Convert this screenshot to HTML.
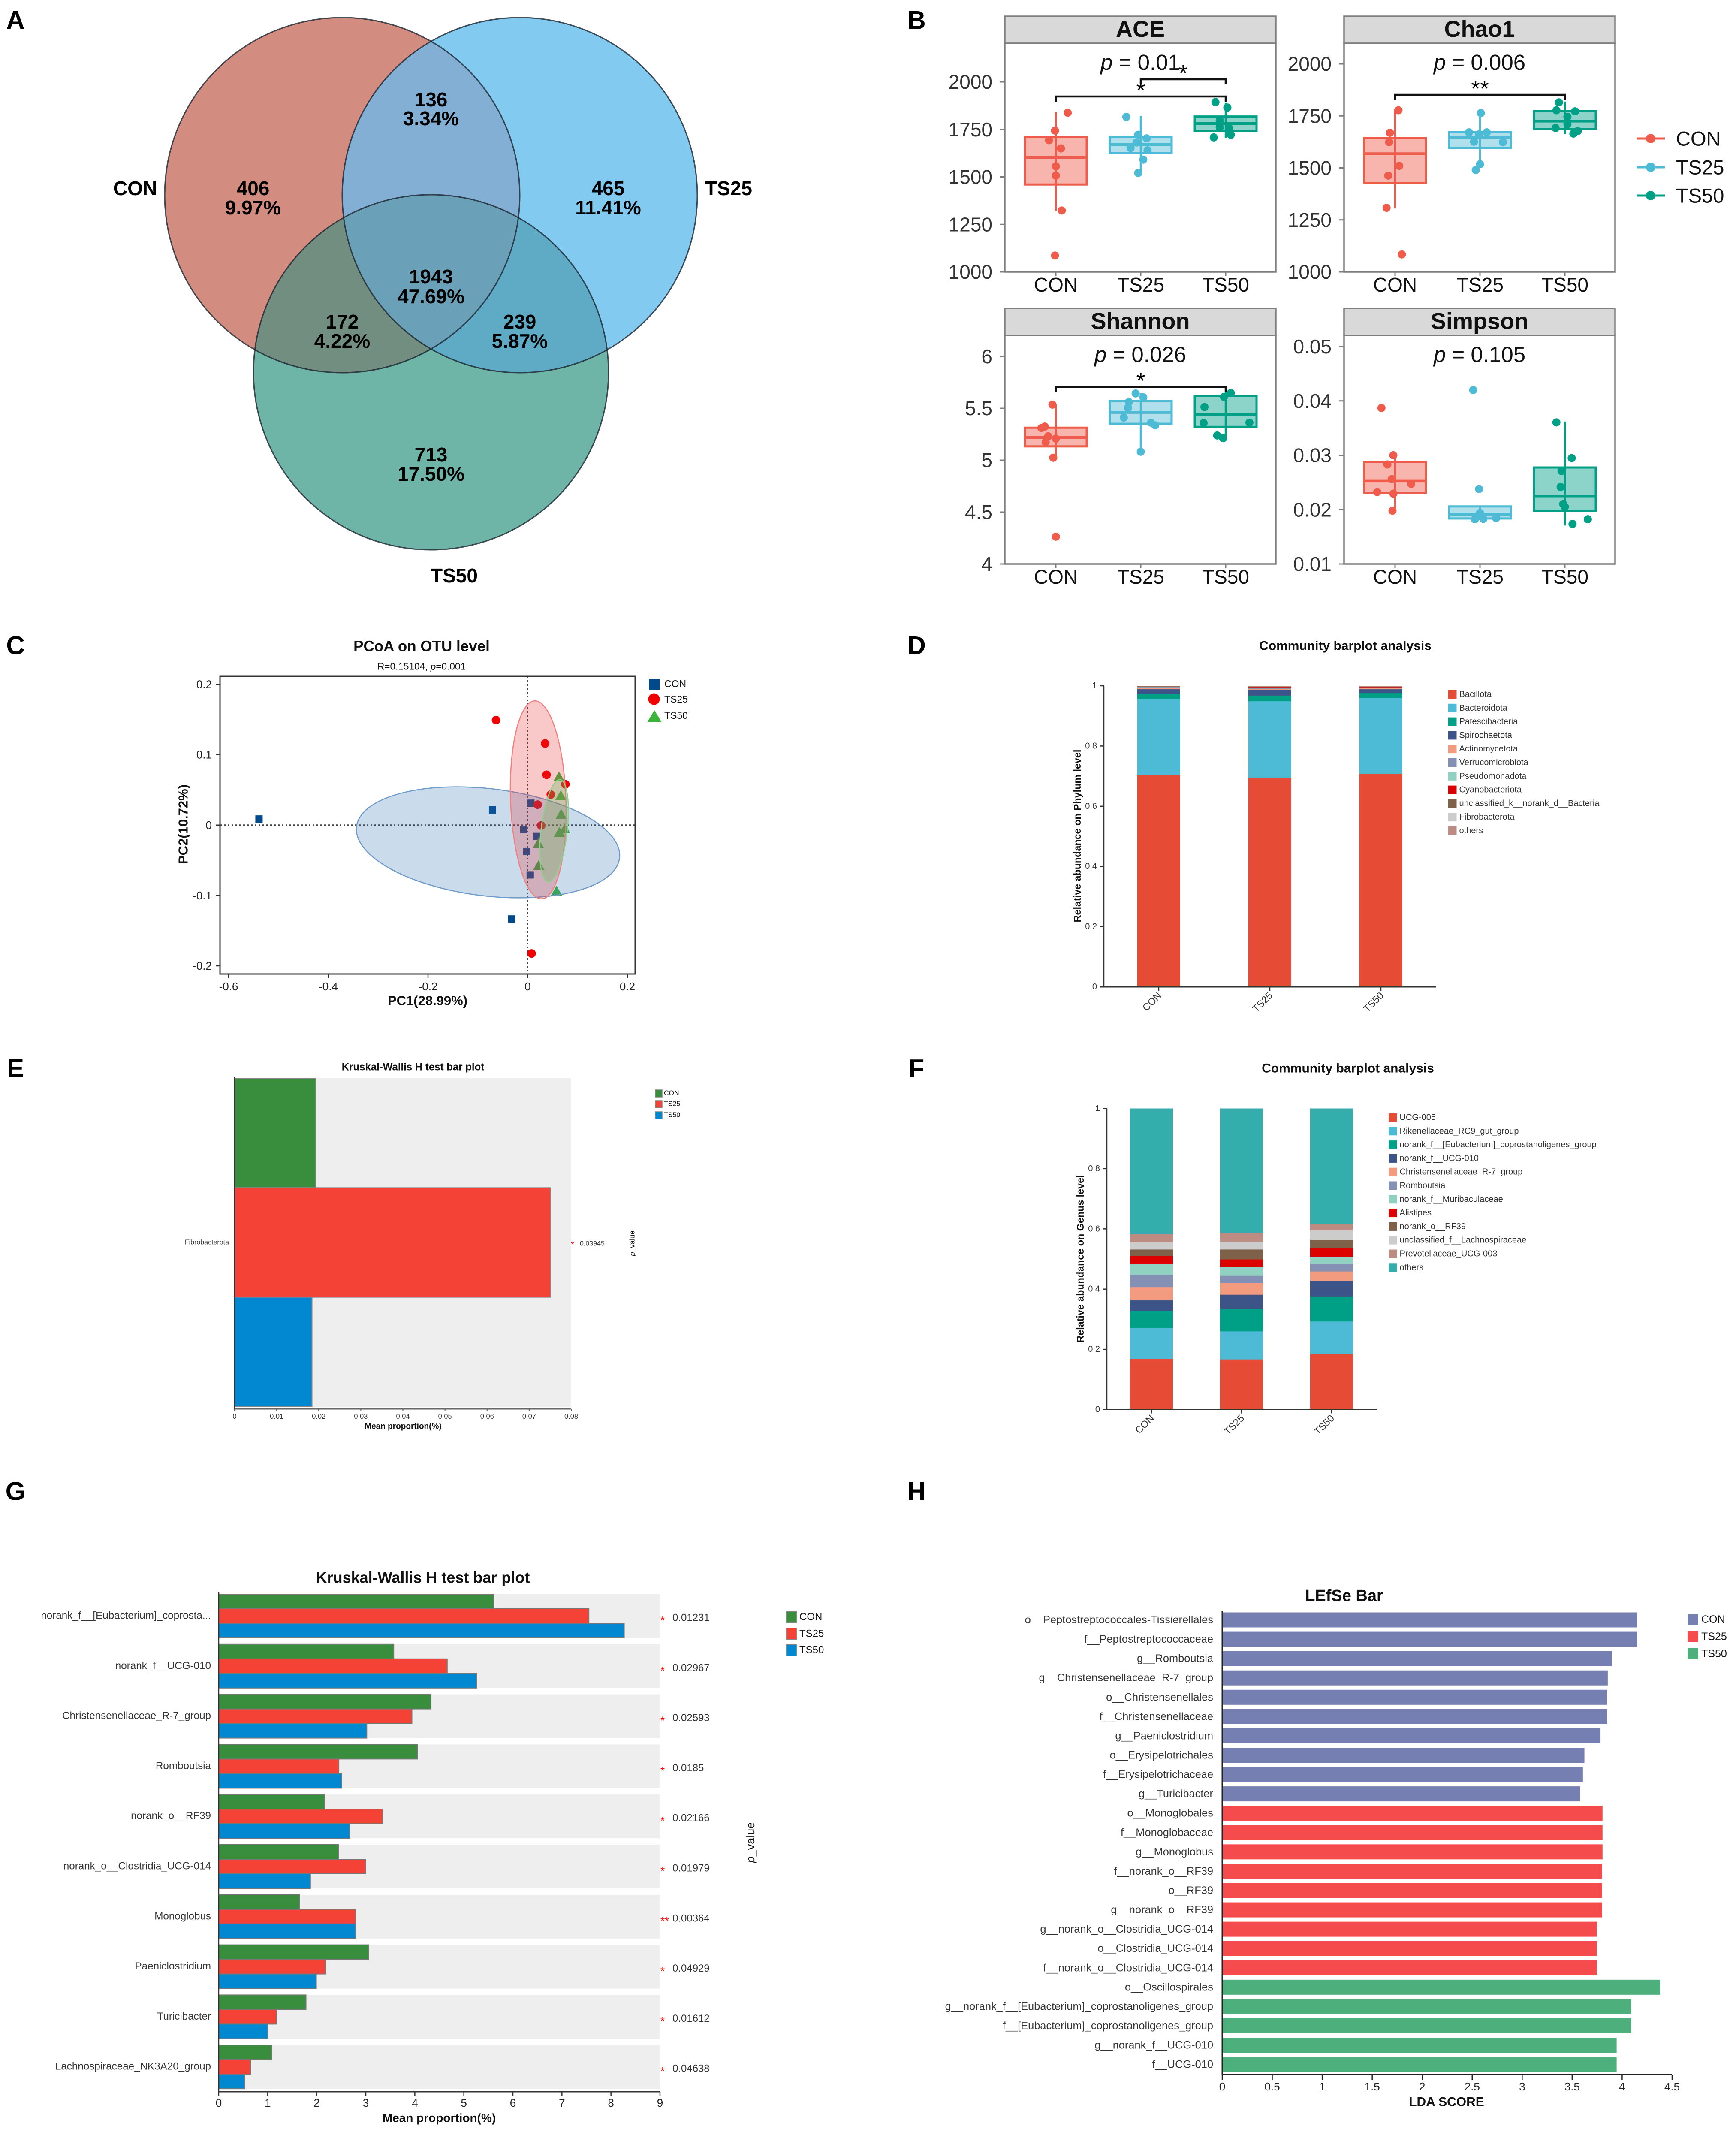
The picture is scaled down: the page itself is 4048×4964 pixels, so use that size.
<!DOCTYPE html>
<html lang="en">
<head>
<meta charset="utf-8">
<title>Microbiome multi-panel figure</title>
<style>
html,body{margin:0;padding:0;background:#fff;}
svg{display:block;font-family:"Liberation Sans",sans-serif;}
text{fill:#111;}
.c{text-anchor:middle;dominant-baseline:central;}
.s{dominant-baseline:central;}
.e{text-anchor:end;dominant-baseline:central;}
.b{font-weight:700;}
.letter{font-size:60px;font-weight:700;fill:#000;dominant-baseline:central;text-anchor:middle;}
.venn{font-size:46px;font-weight:700;fill:#000;text-anchor:middle;dominant-baseline:central;}
</style>
</head>
<body>
<svg id="figure" xmlns="http://www.w3.org/2000/svg" width="4048" height="4964" viewBox="0 0 4048 4964">
<rect width="4048" height="4964" fill="#fff"/>
<text class="letter" x="36" y="47">A</text>
<text class="letter" x="2137" y="47">B</text>
<text class="letter" x="36" y="1505">C</text>
<text class="letter" x="2137" y="1505">D</text>
<text class="letter" x="36" y="2491">E</text>
<text class="letter" x="2137" y="2491">F</text>
<text class="letter" x="36" y="3477">G</text>
<text class="letter" x="2137" y="3477">H</text>

<g id="panel-a">
  <defs>
    <clipPath id="clip-con"><circle cx="798" cy="455" r="414"/></clipPath>
    <clipPath id="clip-ts25"><circle cx="1212" cy="455" r="414"/></clipPath>
    <clipPath id="clip-ts50"><circle cx="1005" cy="868" r="414"/></clipPath>
  </defs>
  <circle cx="798" cy="455" r="414" fill="#D38C80"/>
  <circle cx="1212" cy="455" r="414" fill="#83CAF0"/>
  <circle cx="1005" cy="868" r="414" fill="#6EB4A7"/>
  <g clip-path="url(#clip-con)"><circle cx="1212" cy="455" r="414" fill="#82AFD3"/></g>
  <g clip-path="url(#clip-con)"><circle cx="1005" cy="868" r="414" fill="#728E80"/></g>
  <g clip-path="url(#clip-ts25)"><circle cx="1005" cy="868" r="414" fill="#5FAAC5"/></g>
  <g clip-path="url(#clip-con)"><g clip-path="url(#clip-ts25)"><circle cx="1005" cy="868" r="414" fill="#6BA1B8"/></g></g>
  <circle cx="798" cy="455" r="414" fill="none" stroke="#1a2430" stroke-opacity=".8" stroke-width="3"/>
  <circle cx="1212" cy="455" r="414" fill="none" stroke="#1a2430" stroke-opacity=".8" stroke-width="3"/>
  <circle cx="1005" cy="868" r="414" fill="none" stroke="#1a2430" stroke-opacity=".8" stroke-width="3"/>
  <text class="venn" x="315" y="439">CON</text>
  <text class="venn" x="1699" y="439">TS25</text>
  <text class="venn" x="1059" y="1342">TS50</text>
  <text class="venn" x="590" y="439">406</text>
  <text class="venn" x="590" y="484">9.97%</text>
  <text class="venn" x="1005" y="232">136</text>
  <text class="venn" x="1005" y="276">3.34%</text>
  <text class="venn" x="1418" y="439">465</text>
  <text class="venn" x="1418" y="484">11.41%</text>
  <text class="venn" x="1005" y="645">1943</text>
  <text class="venn" x="1005" y="691">47.69%</text>
  <text class="venn" x="798" y="750">172</text>
  <text class="venn" x="798" y="795">4.22%</text>
  <text class="venn" x="1212" y="750">239</text>
  <text class="venn" x="1212" y="795">5.87%</text>
  <text class="venn" x="1005" y="1060">713</text>
  <text class="venn" x="1005" y="1105">17.50%</text>
</g>

<g id="panel-b">
  <g>
    <g>
      <line x1="3816" x2="3882" y1="323" y2="323" stroke="#F05C4B" stroke-width="5"/><circle cx="3849" cy="323" r="11" fill="#F05C4B"/>
      <text class="s" x="3908" y="323" font-size="47">CON</text>
    </g>
    <g>
      <line x1="3816" x2="3882" y1="390" y2="390" stroke="#4DBBD5" stroke-width="5"/><circle cx="3849" cy="390" r="11" fill="#4DBBD5"/>
      <text class="s" x="3908" y="390" font-size="47">TS25</text>
    </g>
    <g>
      <line x1="3816" x2="3882" y1="456" y2="456" stroke="#00A087" stroke-width="5"/><circle cx="3849" cy="456" r="11" fill="#00A087"/>
      <text class="s" x="3908" y="456" font-size="47">TS50</text>
    </g>
  </g>
</g>

<g id="panel-c">
  <text class="c b" x="983" y="1507" font-size="35">PCoA on OTU level</text>
  <text class="c" x="983" y="1554" font-size="22.6">R=0.15104, <tspan font-style="italic">p</tspan>=0.001</text>
  <text class="c b" x="997" y="2333" font-size="31">PC1(28.99%)</text>
  <text class="c b" x="427" y="1922" font-size="31" transform="rotate(-90 427 1922)">PC2(10.72%)</text>
  <g>
    <g>
      <rect x="1513" y="1583" width="25" height="25" fill="#004A8C"/>
      <text class="s" x="1549" y="1594" font-size="23">CON</text>
    </g>
    <g>
      <circle cx="1525" cy="1630" r="13.5" fill="#F00000"/>
      <text class="s" x="1549" y="1630" font-size="23">TS25</text>
    </g>
    <g>
      <polygon points="1526,1656 1543,1684 1509,1684" fill="#3CB43C"/>
      <text class="s" x="1549" y="1668" font-size="23">TS50</text>
    </g>
  </g>
</g>

<g id="panel-d">
  <text class="c b" x="3137" y="1506" font-size="30">Community barplot analysis</text>
  <text class="c b" x="2512" y="1949" font-size="23.3" transform="rotate(-90 2512 1949)">Relative abundance on Phylum level</text>
</g>

<g id="panel-e">
  <text class="c b" x="963" y="2488" font-size="24">Kruskal-Wallis H test bar plot</text>
  <text class="c b" x="940" y="3326" font-size="19">Mean proportion(%)</text>
  <text class="c" x="1474" y="2899" font-size="17" transform="rotate(-90 1474 2899)"><tspan font-style="italic">p</tspan>_value</text>
  <g>
    <g>
      <rect x="1528" y="2541" width="16" height="17" fill="#388E3C" stroke="#888" stroke-width="1.5"/>
      <text class="s" x="1548" y="2549" font-size="16">CON</text>
    </g>
    <g>
      <rect x="1528" y="2566" width="16" height="17" fill="#F44336" stroke="#888" stroke-width="1.5"/>
      <text class="s" x="1548" y="2574" font-size="16">TS25</text>
    </g>
    <g>
      <rect x="1528" y="2592" width="16" height="17" fill="#0288D1" stroke="#888" stroke-width="1.5"/>
      <text class="s" x="1548" y="2600" font-size="16">TS50</text>
    </g>
  </g>
</g>

<g id="panel-f">
  <text class="c b" x="3143" y="2491" font-size="30">Community barplot analysis</text>
  <text class="c b" x="2519" y="2935" font-size="23.3" transform="rotate(-90 2519 2935)">Relative abundance on Genus level</text>
</g>

<g id="panel-g">
  <text class="c b" x="986" y="3678" font-size="36">Kruskal-Wallis H test bar plot</text>
  <text class="c b" x="1024" y="4938" font-size="28">Mean proportion(%)</text>
  <text class="c" x="1750" y="4296" font-size="27" transform="rotate(-90 1750 4296)"><tspan font-style="italic">p</tspan>_value</text>
  <g>
    <g>
      <rect x="1833" y="3757" width="25" height="27" fill="#388E3C" stroke="#888" stroke-width="2"/>
      <text class="s" x="1864" y="3770" font-size="24">CON</text>
    </g>
    <g>
      <rect x="1833" y="3796" width="25" height="27" fill="#F44336" stroke="#888" stroke-width="2"/>
      <text class="s" x="1864" y="3809" font-size="24">TS25</text>
    </g>
    <g>
      <rect x="1833" y="3834" width="25" height="27" fill="#0288D1" stroke="#888" stroke-width="2"/>
      <text class="s" x="1864" y="3847" font-size="24">TS50</text>
    </g>
  </g>
</g>

<g id="panel-h">
  <text class="c b" x="3134" y="3721" font-size="38">LEfSe Bar</text>
  <text class="c b" x="3373" y="4901" font-size="30">LDA SCORE</text>
  <g>
    <g>
      <rect x="3935" y="3763" width="25" height="26" fill="#767FB2"/>
      <text class="s" x="3967" y="3776" font-size="25">CON</text>
    </g>
    <g>
      <rect x="3935" y="3803" width="25" height="26" fill="#F54B4D"/>
      <text class="s" x="3967" y="3816" font-size="25">TS25</text>
    </g>
    <g>
      <rect x="3935" y="3843" width="25" height="26" fill="#4DAF7C"/>
      <text class="s" x="3967" y="3856" font-size="25">TS50</text>
    </g>
  </g>
</g>
</svg>

<script>
/* ---------- Panel B: alpha diversity ---------- */
const alphaGroups = ['CON', 'TS25', 'TS50'];

const aceTicks = [1000, 1250, 1500, 1750, 2000];
const aceLow = [1321, 1507, 1705];
const aceQ1 = [1460, 1626, 1742];
const aceMedian = [1603, 1671, 1781];
const aceQ3 = [1710, 1710, 1818];
const aceHigh = [1842, 1822, 1892];
const acePointsCON = [1838, 1744, 1693, 1650, 1556, 1507, 1323, 1086];
const acePointsTS25 = [1816, 1722, 1703, 1681, 1652, 1640, 1591, 1521];
const acePointsTS50 = [1894, 1865, 1798, 1761, 1757, 1722, 1708, 1736];
const aceJitterCON = [.14, -.01, -.08, .06, 0, 0, .07, -.01];
const aceJitterTS25 = [-.17, -.03, .07, -.05, -.12, .08, .03, -.03];
const aceJitterTS50 = [-.12, .02, -.07, -.07, .04, .06, -.14, .04];

const chaoTicks = [1000, 1250, 1500, 1750, 2000];
const chaoLow = [1305, 1505, 1663];
const chaoQ1 = [1426, 1596, 1686];
const chaoMedian = [1568, 1647, 1725];
const chaoQ3 = [1643, 1673, 1774];
const chaoHigh = [1785, 1766, 1819];
const chaoPointsCON = [1777, 1669, 1624, 1510, 1463, 1308, 1084];
const chaoPointsTS25 = [1764, 1671, 1671, 1662, 1626, 1624, 1518, 1490];
const chaoPointsTS50 = [1815, 1777, 1772, 1746, 1710, 1692, 1677, 1665];
const chaoJitterCON = [.04, -.06, -.07, .05, -.08, -.10, .08];
const chaoJitterTS25 = [.01, -.13, .08, -.01, -.07, .27, 0, -.05];
const chaoJitterTS50 = [-.07, -.10, .12, .03, .03, -.11, .15, .10];

const shannonTicks = [4, 4.5, 5, 5.5, 6];
const shannonLow = [5.017, 5.073, 5.204];
const shannonQ1 = [5.133, 5.351, 5.321];
const shannonMedian = [5.219, 5.46, 5.437];
const shannonQ3 = [5.313, 5.572, 5.621];
const shannonHigh = [5.542, 5.647, 5.655];
const shannonPointsCON = [5.535, 5.324, 5.31, 5.23, 5.208, 5.174, 5.024, 4.263];
const shannonPointsTS25 = [5.643, 5.606, 5.561, 5.505, 5.411, 5.362, 5.336, 5.081];
const shannonPointsTS50 = [5.647, 5.61, 5.512, 5.358, 5.362, 5.238, 5.212];
const shannonJitterCON = [-.04, -.13, -.17, -.09, 0, -.12, -.03, 0];
const shannonJitterTS25 = [-.06, .03, -.14, -.15, -.20, .12, .17, 0];
const shannonJitterTS50 = [.06, -.02, -.25, -.26, .28, -.10, -.03];

const simpsonTicks = [0.01, 0.02, 0.03, 0.04, 0.05];
const simpsonLow = [.0197, .01837, .01708];
const simpsonQ1 = [.0231, .01837, .0198];
const simpsonMedian = [.02524, .01916, .02252];
const simpsonQ3 = [.02875, .02059, .02775];
const simpsonHigh = [.03, .02059, .0362];
const simpsonPointsCON = [.0387, .03, .0283, .0256, .02474, .02324, .02295, .0198];
const simpsonPointsTS25 = [.042, .0238, .01937, .0188, .01844, .01823, .0183];
const simpsonPointsTS50 = [.03605, .02947, .0271, .02417, .02102, .02052, .01823, .01737];
const simpsonJitterCON = [-.16, -.02, -.09, -.04, .19, -.21, -.02, -.03];
const simpsonJitterTS25 = [-.08, -.01, 0, 0, .19, -.06, .04];
const simpsonJitterTS50 = [-.10, .08, -.04, -.05, -.02, 0, .27, .09];

const alphaPValues = ['0.01', '0.006', '0.026', '0.105'];

/* ---------- Panel C: PCoA ---------- */
const pcoaXTicks = [-0.6, -0.4, -0.2, 0, 0.2];
const pcoaYTicks = [-0.2, -0.1, 0, 0.1, 0.2];
const pc1CON = [-.539, -.0706, .0064, -.0078, .0185, -.0021, .005, -.0321];
const pc2CON = [.0086, .0215, .0311, -.0064, -.0161, -.0376, -.0708, -.1334];
const pc1TS25 = [-.0635, .0349, .0378, .0756, .0463, .02, .0271, .0078];
const pc2TS25 = [.1492, .1159, .0715, .0579, .0433, .029, -.0007, -.1824];
const pc1TS50 = [.0627, .0663, .067, .0742, .0635, .0214, .0221, .0578];
const pc2TS50 = [.069, .0422, .0157, -.005, -.01, -.0258, -.0569, -.0934];

/* ---------- Panel D: phylum stacks ---------- */
const stackGroups = ['CON', 'TS25', 'TS50'];
const stackTicks = [0, 0.2, 0.4, 0.6, 0.8, 1];
const phylumNames = ['Bacillota', 'Bacteroidota', 'Patescibacteria', 'Spirochaetota', 'Actinomycetota', 'Verrucomicrobiota', 'Pseudomonadota', 'Cyanobacteriota', 'unclassified_k__norank_d__Bacteria', 'Fibrobacterota', 'others'];
const phylumCON = [.704, .253, .016, .016, .005, .002, .002, .0003, .0007, .0005, .0005];
const phylumTS25 = [.694, .255, .019, .019, .003, .003, .002, .001, .001, .0005, .0025];
const phylumTS50 = [.708, .252, .016, .013, .003, .002, .001, .001, .001, .0005, .0025];

/* ---------- Panel E: Fibrobacterota ---------- */
const fibroTicks = [0, 0.01, 0.02, 0.03, 0.04, 0.05, 0.06, 0.07, 0.08];
const fibroTaxon = 'Fibrobacterota';
const fibroValues = [.0193, .0751, .0184];
const fibroPValue = '0.03945';

/* ---------- Panel F: genus stacks ---------- */
const genusStackNames = ['UCG-005', 'Rikenellaceae_RC9_gut_group', 'norank_f__[Eubacterium]_coprostanoligenes_group', 'norank_f__UCG-010', 'Christensenellaceae_R-7_group', 'Romboutsia', 'norank_f__Muribaculaceae', 'Alistipes', 'norank_o__RF39', 'unclassified_f__Lachnospiraceae', 'Prevotellaceae_UCG-003', 'others'];
const genusStackCON = [.169, .103, .056, .035, .044, .041, .036, .027, .021, .024, .027, .417];
const genusStackTS25 = [.167, .093, .076, .046, .039, .025, .027, .026, .033, .026, .028, .414];
const genusStackTS50 = [.184, .109, .083, .052, .031, .026, .022, .030, .027, .032, .020, .384];

/* ---------- Panel G: Kruskal-Wallis genera ---------- */
const kwTicks = [0, 1, 2, 3, 4, 5, 6, 7, 8, 9];
const kwNames = ['norank_f__[Eubacterium]_coprosta...', 'norank_f__UCG-010', 'Christensenellaceae_R-7_group', 'Romboutsia', 'norank_o__RF39', 'norank_o__Clostridia_UCG-014', 'Monoglobus', 'Paeniclostridium', 'Turicibacter', 'Lachnospiraceae_NK3A20_group'];
const kwCON = [5.61, 3.57, 4.33, 4.05, 2.16, 2.44, 1.65, 3.06, 1.78, 1.08];
const kwTS25 = [7.55, 4.66, 3.94, 2.45, 3.34, 3.0, 2.79, 2.18, 1.18, .65];
const kwTS50 = [8.27, 5.26, 3.02, 2.51, 2.67, 1.87, 2.79, 1.99, 1.0, .53];
const kwPValues = ['0.01231', '0.02967', '0.02593', '0.0185', '0.02166', '0.01979', '0.00364', '0.04929', '0.01612', '0.04638'];
const kwStars = ['*', '*', '*', '*', '*', '*', '**', '*', '*', '*'];

/* ---------- Panel H: LEfSe ---------- */
const ldaTicks = [0, 0.5, 1, 1.5, 2, 2.5, 3, 3.5, 4, 4.5];
const ldaNames = ['o__Peptostreptococcales-Tissierellales', 'f__Peptostreptococcaceae', 'g__Romboutsia', 'g__Christensenellaceae_R-7_group', 'o__Christensenellales', 'f__Christensenellaceae', 'g__Paeniclostridium', 'o__Erysipelotrichales', 'f__Erysipelotrichaceae', 'g__Turicibacter', 'o__Monoglobales', 'f__Monoglobaceae', 'g__Monoglobus', 'f__norank_o__RF39', 'o__RF39', 'g__norank_o__RF39', 'g__norank_o__Clostridia_UCG-014', 'o__Clostridia_UCG-014', 'f__norank_o__Clostridia_UCG-014', 'o__Oscillospirales', 'g__norank_f__[Eubacterium]_coprostanoligenes_group', 'f__[Eubacterium]_coprostanoligenes_group', 'g__norank_f__UCG-010', 'f__UCG-010'];
const ldaScores = [4.152, 4.152, 3.898, 3.856, 3.851, 3.851, 3.784, 3.623, 3.607, 3.581, 3.804, 3.804, 3.804, 3.80, 3.80, 3.80, 3.747, 3.747, 3.747, 4.38, 4.09, 4.09, 3.945, 3.945];
const ldaGroups = ['CON', 'CON', 'CON', 'CON', 'CON', 'CON', 'CON', 'CON', 'CON', 'CON', 'TS25', 'TS25', 'TS25', 'TS25', 'TS25', 'TS25', 'TS25', 'TS25', 'TS25', 'TS50', 'TS50', 'TS50', 'TS50', 'TS50'];

/* ---------- palettes ---------- */
const alphaColor = ['#F05C4B', '#4DBBD5', '#00A087'];
const groupBarColor = ['#388E3C', '#F44336', '#0288D1'];
const stackPalette = ['#E64B35', '#4DBBD5', '#00A087', '#3C5488', '#F39B7F', '#8491B4', '#91D1C2', '#DC0000', '#7E6148', '#CCCCCC', '#BC8B82', '#34ADAD'];
const ldaColor = { CON: '#767FB2', TS25: '#F54B4D', TS50: '#4DAF7C' };

/* ---------- helpers ---------- */
const NS = 'http://www.w3.org/2000/svg';
function mk(parent, tag, geom, content) {
  const el = document.createElementNS(NS, tag);
  for (const k in geom) el.setAttribute(k, geom[k]);
  if (content !== undefined) el.textContent = content;
  parent.appendChild(el);
  return el;
}
function tagEl(el, name) {
  
  
  return el;
}
function group(parent, name) {
  return tagEl(mk(parent, 'g', {}), name);
}
function scale(d0, d1, p0, p1) {
  return v => p0 + (v - d0) * (p1 - p0) / (d1 - d0);
}

/* ---------- Panel B ---------- */
function drawAlpha(opts) {
  const root = document.getElementById('panel-b');
  const g = group(root, opts.key + '-panel');
  const L = opts.left, R = opts.left + 632, T = opts.top, S = T - 63, B = opts.top + 533;
  const y = scale(opts.dmin, opts.dmax, B, opts.ymaxPx);
  const x = i => L + 119 + i * 198;
  tagEl(mk(g, 'rect', { x: L, y: S, width: R - L, height: T - S, fill: '#D9D9D9', stroke: '#7F7F7F', 'stroke-width': 3.5 }), opts.key + '-strip');
  tagEl(mk(g, 'text', { x: (L + R) / 2, y: S + 30, class: 'c b', 'font-size': 54 }, opts.title), opts.key + '-strip-title');
  tagEl(mk(g, 'rect', { x: L, y: T, width: R - L, height: B - T, fill: '#fff', stroke: '#7F7F7F', 'stroke-width': 3.5 }), opts.key + '-plot-frame');
  opts.ticks.forEach(t => {
    tagEl(mk(g, 'line', { x1: L - 12, x2: L, y1: y(t), y2: y(t), stroke: '#7F7F7F', 'stroke-width': 3 }), opts.key + '-y-tick');
    tagEl(mk(g, 'text', { x: L - 29, y: y(t), class: 'e', 'font-size': 46, style: 'fill:#333' }, String(t)), opts.key + '-y-tick-label');
  });
  alphaGroups.forEach((name, i) => {
    const c = alphaColor[i], cx = x(i), bw = 144;
    tagEl(mk(g, 'line', { x1: cx, x2: cx, y1: B, y2: B + 10, stroke: '#7F7F7F', 'stroke-width': 3 }), opts.key + '-x-tick');
    tagEl(mk(g, 'text', { x: cx, y: B + 30, class: 'c', 'font-size': 46, style: 'fill:#111' }, name), opts.key + '-x-tick-label');
    tagEl(mk(g, 'line', { x1: cx, x2: cx, y1: y(opts.low[i]), y2: y(opts.high[i]), stroke: c, 'stroke-width': 4.5 }), opts.key + '-whisker-' + name);
    tagEl(mk(g, 'rect', { x: cx - bw / 2, y: y(opts.q3[i]), width: bw, height: y(opts.q1[i]) - y(opts.q3[i]), fill: c, 'fill-opacity': .45, stroke: c, 'stroke-width': 5 }), opts.key + '-box-' + name);
    tagEl(mk(g, 'line', { x1: cx - bw / 2, x2: cx + bw / 2, y1: y(opts.med[i]), y2: y(opts.med[i]), stroke: c, 'stroke-width': 6.5 }), opts.key + '-median-' + name);
    opts.points[i].forEach((v, j) => {
      tagEl(mk(g, 'circle', { cx: cx + opts.jitter[i][j] * 198, cy: y(v), r: 9.5, fill: c }), opts.key + '-point-' + name);
    });
  });
  const p = tagEl(mk(g, 'text', { x: opts.left + 316, y: T + 44, class: 'c', 'font-size': 51 }), opts.key + '-p-value');
  mk(p, 'tspan', { 'font-style': 'italic' }, 'p');
  mk(p, 'tspan', {}, ' = ' + opts.p);
  (opts.brackets || []).forEach(b => {
    const x1 = x(b.from), x2 = x(b.to);
    tagEl(mk(g, 'path', { d: `M${x1} ${b.y + 12}V${b.y}H${x2}V${b.y + 12}`, fill: 'none', stroke: '#111', 'stroke-width': 4.5 }), opts.key + '-significance-bracket');
    tagEl(mk(g, 'text', { x: (x1 + x2) / 2, y: b.y + 4, 'text-anchor': 'middle', 'font-size': 54, style: 'fill:#000' }, b.label), opts.key + '-significance-stars');
  });
}
const alphaColLeft = [2343, 3134];
const alphaRowTop = [101, 782];
drawAlpha({ key: 'ace', title: 'ACE', left: alphaColLeft[0], top: alphaRowTop[0], dmin: 1000, dmax: 2000, ymaxPx: 191, ticks: aceTicks, low: aceLow, q1: aceQ1, med: aceMedian, q3: aceQ3, high: aceHigh, points: [acePointsCON, acePointsTS25, acePointsTS50], jitter: [aceJitterCON, aceJitterTS25, aceJitterTS50], p: alphaPValues[0], brackets: [{ from: 0, to: 2, y: 225, label: '*' }, { from: 1, to: 2, y: 185, label: '*' }] });
drawAlpha({ key: 'chao1', title: 'Chao1', left: alphaColLeft[1], top: alphaRowTop[0], dmin: 1000, dmax: 2000, ymaxPx: 149, ticks: chaoTicks, low: chaoLow, q1: chaoQ1, med: chaoMedian, q3: chaoQ3, high: chaoHigh, points: [chaoPointsCON, chaoPointsTS25, chaoPointsTS50], jitter: [chaoJitterCON, chaoJitterTS25, chaoJitterTS50], p: alphaPValues[1], brackets: [{ from: 0, to: 2, y: 221, label: '**' }] });
drawAlpha({ key: 'shannon', title: 'Shannon', left: alphaColLeft[0], top: alphaRowTop[1], dmin: 4, dmax: 6, ymaxPx: 831, ticks: shannonTicks, low: shannonLow, q1: shannonQ1, med: shannonMedian, q3: shannonQ3, high: shannonHigh, points: [shannonPointsCON, shannonPointsTS25, shannonPointsTS50], jitter: [shannonJitterCON, shannonJitterTS25, shannonJitterTS50], p: alphaPValues[2], brackets: [{ from: 0, to: 2, y: 902, label: '*' }] });
drawAlpha({ key: 'simpson', title: 'Simpson', left: alphaColLeft[1], top: alphaRowTop[1], dmin: .01, dmax: .05, ymaxPx: 808, ticks: simpsonTicks, low: simpsonLow, q1: simpsonQ1, med: simpsonMedian, q3: simpsonQ3, high: simpsonHigh, points: [simpsonPointsCON, simpsonPointsTS25, simpsonPointsTS50], jitter: [simpsonJitterCON, simpsonJitterTS25, simpsonJitterTS50], p: alphaPValues[3] });

/* ---------- Panel C ---------- */
(function () {
  const root = document.getElementById('panel-c');
  const x = scale(-0.6, 0.2, 533, 1463);
  const y = scale(-0.2, 0.2, 2252, 1595.5);
  const L = 513, R = 1481, T = 1577, B = 2271;
  tagEl(mk(root, 'rect', { x: L, y: T, width: R - L, height: B - T, fill: '#fff' }), 'pcoa-plot-background');
  pcoaXTicks.forEach(t => {
    tagEl(mk(root, 'line', { x1: x(t), x2: x(t), y1: B, y2: B + 10, stroke: '#333', 'stroke-width': 2.5 }), 'pcoa-x-tick');
    tagEl(mk(root, 'text', { x: x(t), y: 2300, class: 'c', 'font-size': 26, style: 'fill:#222' }, String(t)), 'pcoa-x-tick-label');
  });
  pcoaYTicks.forEach(t => {
    tagEl(mk(root, 'line', { x1: L - 10, x2: L, y1: y(t), y2: y(t), stroke: '#333', 'stroke-width': 2.5 }), 'pcoa-y-tick');
    tagEl(mk(root, 'text', { x: 494, y: y(t), class: 'e', 'font-size': 26, style: 'fill:#222' }, String(t)), 'pcoa-y-tick-label');
  });
  tagEl(mk(root, 'line', { x1: L, x2: R, y1: y(0), y2: y(0), stroke: '#444', 'stroke-width': 3, 'stroke-dasharray': '4 5' }), 'pcoa-zero-line-horizontal');
  tagEl(mk(root, 'line', { x1: x(0), x2: x(0), y1: T, y2: B, stroke: '#444', 'stroke-width': 3, 'stroke-dasharray': '4 5' }), 'pcoa-zero-line-vertical');
  pc1CON.forEach((v, i) => {
    tagEl(mk(root, 'rect', { x: x(v) - 8.5, y: y(pc2CON[i]) - 8.5, width: 17, height: 17, fill: '#004A8C' }), 'pcoa-point-con');
  });
  pc1TS25.forEach((v, i) => {
    tagEl(mk(root, 'circle', { cx: x(v), cy: y(pc2TS25[i]), r: 10, fill: '#F00000' }), 'pcoa-point-ts25');
  });
  pc1TS50.forEach((v, i) => {
    const cx = x(v), cy = y(pc2TS50[i]);
    tagEl(mk(root, 'polygon', { points: `${cx},${cy - 12} ${cx + 13},${cy + 11} ${cx - 13},${cy + 11}`, fill: '#3CB43C' }), 'pcoa-point-ts50');
  });
  tagEl(mk(root, 'ellipse', { cx: 1138, cy: 1964, rx: 308.8, ry: 125, transform: 'rotate(6.78 1138 1964)', fill: '#2A6EB0', 'fill-opacity': .25, stroke: '#6F9BC8', 'stroke-width': 2.5 }), 'pcoa-ellipse-con');
  tagEl(mk(root, 'ellipse', { cx: 1255, cy: 1865, rx: 64.5, ry: 231, transform: 'rotate(-2 1255 1865)', fill: '#E8282C', 'fill-opacity': .25, stroke: '#F08080', 'stroke-width': 2.5 }), 'pcoa-ellipse-ts25');
  tagEl(mk(root, 'ellipse', { cx: 1292, cy: 1937, rx: 30.5, ry: 120, transform: 'rotate(6.7 1292 1937)', fill: '#5CB85C', 'fill-opacity': .3, stroke: '#8FCF8F', 'stroke-width': 2.5 }), 'pcoa-ellipse-ts50');
  tagEl(mk(root, 'rect', { x: L, y: T, width: R - L, height: B - T, fill: 'none', stroke: '#333', 'stroke-width': 3 }), 'pcoa-plot-frame');
})();

/* ---------- Stacked bars (D, F) ---------- */
function drawStack(o) {
  const root = document.getElementById(o.rootId);
  const y = scale(0, 1, o.y0, o.y1);
  o.rows.forEach((row, i) => {
    let acc = 0;
    const cx = o.centers[i];
    row.forEach((v, j) => {
      tagEl(mk(root, 'rect', { x: cx - 50, y: y(acc + v), width: 100, height: y(acc) - y(acc + v) + .4, fill: stackPalette[o.colorIndex(j)] }), o.key + '-segment-' + stackGroups[i]);
      acc += v;
    });
    tagEl(mk(root, 'line', { x1: cx, x2: cx, y1: o.y0, y2: o.y0 + 9, stroke: '#333', 'stroke-width': 2.5 }), o.key + '-x-tick');
    tagEl(mk(root, 'text', { x: cx + 2, y: o.y0 + 16, 'text-anchor': 'end', 'dominant-baseline': 'central', 'font-size': 23, style: 'fill:#333', transform: `rotate(-45 ${cx + 2} ${o.y0 + 16})` }, stackGroups[i]), o.key + '-x-tick-label');
  });
  tagEl(mk(root, 'line', { x1: o.axisX, x2: o.axisX, y1: o.y1, y2: o.y0, stroke: '#333', 'stroke-width': 2.5 }), o.key + '-y-axis');
  tagEl(mk(root, 'line', { x1: o.axisX - 10, x2: o.axisEnd, y1: o.y0, y2: o.y0, stroke: '#333', 'stroke-width': 3 }), o.key + '-x-axis');
  stackTicks.forEach(t => {
    tagEl(mk(root, 'line', { x1: o.axisX - 9, x2: o.axisX, y1: y(t), y2: y(t), stroke: '#333', 'stroke-width': 2.5 }), o.key + '-y-tick');
    tagEl(mk(root, 'text', { x: o.axisX - 16, y: y(t), class: 'e', 'font-size': 20, style: 'fill:#333' }, String(t)), o.key + '-y-tick-label');
  });
  o.names.forEach((n, j) => {
    const ly = o.legendY + j * 31.8;
    const lg = group(root, o.key + '-legend-entry');
    tagEl(mk(lg, 'rect', { x: o.legendX, y: ly - 10, width: 19.5, height: 20, fill: stackPalette[o.colorIndex(j)] }), o.key + '-legend-swatch');
    tagEl(mk(lg, 'text', { x: o.legendX + 25.5, y: ly, class: 's', 'font-size': 20, style: 'fill:#333' }, n), o.key + '-legend-label');
  });
}
drawStack({ rootId: 'panel-d', key: 'phylum', rows: [phylumCON, phylumTS25, phylumTS50], names: phylumNames, centers: [2702, 2961, 3220], y0: 2301, y1: 1599, axisX: 2574, axisEnd: 3348, legendX: 3377, legendY: 1619, colorIndex: j => j === 10 ? 10 : j });
drawStack({ rootId: 'panel-f', key: 'genus', rows: [genusStackCON, genusStackTS25, genusStackTS50], names: genusStackNames, centers: [2685, 2895, 3105], y0: 3286.5, y1: 2584.5, axisX: 2581, axisEnd: 3210, legendX: 3238, legendY: 2605.5, colorIndex: j => j });

/* ---------- Panel E ---------- */
(function () {
  const root = document.getElementById('panel-e');
  const x = scale(0, 0.08, 547, 1332);
  const T = 2514, B = 3280, h = (B - T) / 3;
  tagEl(mk(root, 'rect', { x: 547, y: T, width: 785, height: B - T, fill: '#EEEEEE' }), 'fibro-background-band');
  fibroValues.forEach((v, i) => {
    tagEl(mk(root, 'rect', { x: 547, y: T + i * h, width: x(v) - 547, height: h, fill: groupBarColor[i], stroke: '#888', 'stroke-width': 2 }), 'fibro-bar-' + alphaGroups[i]);
  });
  tagEl(mk(root, 'line', { x1: 547, x2: 547, y1: 2510, y2: 3285, stroke: '#333', 'stroke-width': 2.5 }), 'fibro-y-axis');
  tagEl(mk(root, 'line', { x1: 547, x2: 1332, y1: 3285, y2: 3285, stroke: '#666', 'stroke-width': 3 }), 'fibro-x-axis');
  fibroTicks.forEach(t => {
    tagEl(mk(root, 'line', { x1: x(t), x2: x(t), y1: 3285, y2: 3291, stroke: '#555', 'stroke-width': 2 }), 'fibro-x-tick');
    tagEl(mk(root, 'text', { x: x(t), y: 3303, class: 'c', 'font-size': 16.4, style: 'fill:#333' }, String(t)), 'fibro-x-tick-label');
  });
  tagEl(mk(root, 'text', { x: 534, y: 2897, class: 'e', 'font-size': 16, style: 'fill:#333' }, fibroTaxon), 'fibro-taxon-label');
  tagEl(mk(root, 'text', { x: 1335, y: 2908, 'text-anchor': 'middle', 'font-size': 18, style: 'fill:#F00' }, '*'), 'fibro-significance-star');
  tagEl(mk(root, 'text', { x: 1352, y: 2900, class: 's', 'font-size': 16, style: 'fill:#333' }, fibroPValue), 'fibro-p-value');
})();

/* ---------- Panel G ---------- */
(function () {
  const root = document.getElementById('panel-g');
  const x = scale(0, 9, 510, 1539);
  const series = [kwCON, kwTS25, kwTS50];
  kwNames.forEach((n, i) => {
    const top = 3717 + i * 116.8, h = 102, bh = h / 3;
    tagEl(mk(root, 'rect', { x: 510, y: top, width: 1029, height: h, fill: '#EEEEEE' }), 'kruskal-background-band');
    series.forEach((s, k) => {
      tagEl(mk(root, 'rect', { x: 510, y: top + k * bh, width: x(s[i]) - 510, height: bh, fill: groupBarColor[k], stroke: '#777', 'stroke-width': 2 }), 'kruskal-bar-' + alphaGroups[k]);
    });
    tagEl(mk(root, 'text', { x: 492, y: top + h / 2 - 1, class: 'e', 'font-size': 24.2, style: 'fill:#333' }, n), 'kruskal-taxon-label');
    tagEl(mk(root, 'text', { x: 1540, y: top + 70, 'font-size': 26, style: 'fill:#F00' }, kwStars[i]), 'kruskal-significance-star');
    tagEl(mk(root, 'text', { x: 1568, y: top + 55, class: 's', 'font-size': 24, style: 'fill:#333' }, kwPValues[i]), 'kruskal-p-value');
  });
  tagEl(mk(root, 'line', { x1: 510, x2: 510, y1: 3711, y2: 4877, stroke: '#333', 'stroke-width': 2.5 }), 'kruskal-y-axis');
  tagEl(mk(root, 'line', { x1: 510, x2: 1539, y1: 4877, y2: 4877, stroke: '#333', 'stroke-width': 3 }), 'kruskal-x-axis');
  kwTicks.forEach(t => {
    tagEl(mk(root, 'line', { x1: x(t), x2: x(t), y1: 4877, y2: 4887, stroke: '#333', 'stroke-width': 2.5 }), 'kruskal-x-tick');
    tagEl(mk(root, 'text', { x: x(t), y: 4903, class: 'c', 'font-size': 26, style: 'fill:#222' }, String(t)), 'kruskal-x-tick-label');
  });
})();

/* ---------- Panel H ---------- */
(function () {
  const root = document.getElementById('panel-h');
  const x = scale(0, 4.5, 2850, 3899);
  ldaNames.forEach((n, i) => {
    const cy = 3777 + i * 45.07;
    tagEl(mk(root, 'rect', { x: 2850, y: cy - 17.5, width: x(ldaScores[i]) - 2850, height: 35, fill: ldaColor[ldaGroups[i]] }), 'lefse-bar-' + ldaGroups[i]);
    tagEl(mk(root, 'text', { x: 2829, y: cy, class: 'e', 'font-size': 25.4, style: 'fill:#333' }, n), 'lefse-taxon-label');
  });
  tagEl(mk(root, 'line', { x1: 2850, x2: 2850, y1: 3757, y2: 4837, stroke: '#222', 'stroke-width': 3 }), 'lefse-y-axis');
  tagEl(mk(root, 'line', { x1: 2850, x2: 3899, y1: 4837, y2: 4837, stroke: '#222', 'stroke-width': 3 }), 'lefse-x-axis');
  ldaTicks.forEach(t => {
    tagEl(mk(root, 'line', { x1: x(t), x2: x(t), y1: 4837, y2: 4850, stroke: '#222', 'stroke-width': 2.5 }), 'lefse-x-tick');
    tagEl(mk(root, 'text', { x: x(t), y: 4865, class: 'c', 'font-size': 26, style: 'fill:#222' }, String(t)), 'lefse-x-tick-label');
  });
})();
</script>
</body>
</html>
